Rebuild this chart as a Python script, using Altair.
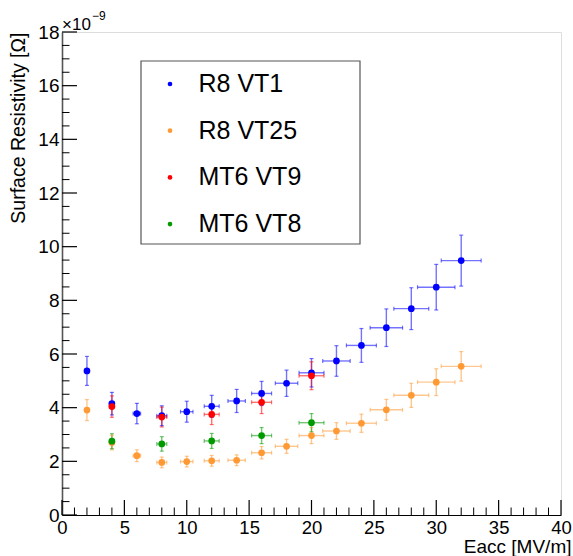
import altair as alt
import pandas as pd

# ---- data ----
series_names = ["R8 VT1", "R8 VT25", "MT6 VT9", "MT6 VT8"]
series_colors = ["#0000ff", "#ff9933", "#ff0000", "#009900"]

x_r8 = [2, 4, 6, 8, 10, 12, 14, 16, 18, 20, 22, 24, 26, 28, 30, 32]
xerr_r8 = [0.1, 0.2, 0.3, 0.4, 0.5, 0.6, 0.7, 0.8, 0.9, 1.0, 1.1, 1.2, 1.3, 1.4, 1.5, 1.6]

y_vt1 = [5.37, 4.15, 3.78, 3.70, 3.85, 4.05, 4.25, 4.53, 4.91, 5.30, 5.74, 6.32, 6.98, 7.69, 8.49, 9.48]
yerr_vt1 = [0.54, 0.42, 0.38, 0.37, 0.39, 0.41, 0.43, 0.45, 0.49, 0.53, 0.57, 0.63, 0.70, 0.78, 0.85, 0.95]

y_vt25 = [3.91, 2.70, 2.21, 1.96, 1.99, 2.02, 2.04, 2.32, 2.56, 2.96, 3.13, 3.42, 3.92, 4.46, 4.95, 5.54]
yerr_vt25 = [0.39, 0.27, 0.22, 0.20, 0.20, 0.20, 0.20, 0.23, 0.26, 0.30, 0.31, 0.34, 0.39, 0.45, 0.50, 0.55]

x_mt6 = [4, 8, 12, 16, 20]
xerr_mt6 = [0.2, 0.4, 0.6, 0.8, 1.0]

y_vt9 = [4.04, 3.65, 3.75, 4.20, 5.19]
yerr_vt9 = [0.40, 0.37, 0.38, 0.42, 0.52]

y_vt8 = [2.75, 2.65, 2.76, 2.96, 3.44]
yerr_vt8 = [0.28, 0.27, 0.28, 0.30, 0.34]

x_major_ticks = [0, 5, 10, 15, 20, 25, 30, 35, 40]
x_minor_ticks = [v for v in range(0, 41) if v % 5 != 0]
y_major_ticks = [0, 2, 4, 6, 8, 10, 12, 14, 16, 18]
y_minor_ticks = [v / 2 for v in range(0, 37) if v % 4 != 0]

# ---- build table ----
rows = []
for name, xs, ys, xe, ye in [
    ("R8 VT1", x_r8, y_vt1, xerr_r8, yerr_vt1),
    ("R8 VT25", x_r8, y_vt25, xerr_r8, yerr_vt25),
    ("MT6 VT9", x_mt6, y_vt9, xerr_mt6, yerr_vt9),
    ("MT6 VT8", x_mt6, y_vt8, xerr_mt6, yerr_vt8),
]:
    for a, b, c, d in zip(xs, ys, xe, ye):
        rows.append({"series": name, "x": a, "y": b, "xerr": c, "yerr": d})
df = pd.DataFrame(rows)

W, H = 499, 483
FONT = "Liberation Sans"

xscale = alt.Scale(domain=[0, 40], nice=False, zero=False)
yscale = alt.Scale(domain=[0, 18], nice=False, zero=False)
cscale = alt.Scale(domain=series_names, range=series_colors)

base = alt.Chart(df).transform_calculate(
    xlo="datum.x - datum.xerr", xhi="datum.x + datum.xerr",
    ylo="datum.y - datum.yerr", yhi="datum.y + datum.yerr",
)

xaxis = alt.Axis(
    values=x_major_ticks, tickSize=0, labelFontSize=18.5, labelFont=FONT, labelColor="black",
    labelPadding=3, domainColor="black", domainWidth=1.2, grid=False,
    title="Eacc [MV/m]", titleFont=FONT, titleFontSize=19, titleFontWeight="normal",
    titleAnchor="end", titleAlign="right", titleX=509, titleY=37, titleBaseline="alphabetic",
    titleColor="black", labelFlush=False, labelOverlap=False,
)
yaxis = alt.Axis(
    values=y_major_ticks, tickSize=0, labelFontSize=19, labelFont=FONT, labelColor="black",
    labelPadding=3, domainColor="#555555", domainWidth=1.6, grid=False,
    title="Surface Resistivity [Ω]", titleFont=FONT, titleFontSize=19.5, titleFontWeight="normal",
    titleAnchor="end", titleAlign="right", titleAngle=270, titleX=-44, titleY=0,
    titleBaseline="middle", titleColor="black", labelFlush=False, labelOverlap=False,
)

nolegend = alt.Color("series:N", scale=cscale, legend=None)

vbars = base.mark_rule(strokeWidth=1.4, opacity=0.55).encode(
    x=alt.X("x:Q", scale=xscale, axis=xaxis),
    y=alt.Y("ylo:Q", scale=yscale, axis=yaxis),
    y2="yhi:Q",
    color=nolegend,
)
hbars = base.mark_rule(strokeWidth=1.4, opacity=0.55).encode(
    x=alt.X("xlo:Q", scale=xscale), x2="xhi:Q",
    y=alt.Y("y:Q", scale=yscale),
    color=nolegend,
)
capt = base.mark_tick(orient="horizontal", size=4, thickness=1.2, opacity=0.55).encode(
    x=alt.X("x:Q", scale=xscale), y=alt.Y("yhi:Q", scale=yscale), color=nolegend,
)
capb = base.mark_tick(orient="horizontal", size=4, thickness=1.2, opacity=0.55).encode(
    x=alt.X("x:Q", scale=xscale), y=alt.Y("ylo:Q", scale=yscale), color=nolegend,
)
capl = base.mark_tick(orient="vertical", size=4, thickness=1.2, opacity=0.55).encode(
    x=alt.X("xlo:Q", scale=xscale), y=alt.Y("y:Q", scale=yscale), color=nolegend,
)
capr = base.mark_tick(orient="vertical", size=4, thickness=1.2, opacity=0.55).encode(
    x=alt.X("xhi:Q", scale=xscale), y=alt.Y("y:Q", scale=yscale), color=nolegend,
)

# legend frame
legend_box = alt.Chart(pd.DataFrame({"a": [0]})).mark_rect(
    fill="white", stroke="#555555", strokeWidth=1.2
).encode(x=alt.value(79), x2=alt.value(298), y=alt.value(29), y2=alt.value(212))

points = base.mark_circle(size=45, opacity=1).encode(
    x=alt.X("x:Q", scale=xscale),
    y=alt.Y("y:Q", scale=yscale),
    color=alt.Color(
        "series:N", scale=cscale,
        legend=alt.Legend(
            title=None, orient="none", legendX=95.5, legendY=39.5,
            labelFontSize=25, labelFont=FONT, labelColor="black",
            symbolType="circle", symbolSize=22, symbolStrokeWidth=0,
            rowPadding=20.7, labelOffset=16, padding=0, labelLimit=300,
        ),
    ),
)

# inward tick marks (ROOT style)
xt_major = alt.Chart(pd.DataFrame({"v": x_major_ticks})).mark_rule(color="black", strokeWidth=1.2).encode(
    x=alt.X("v:Q", scale=xscale), y=alt.value(H), y2=alt.value(H - 15))
xt_minor = alt.Chart(pd.DataFrame({"v": x_minor_ticks})).mark_rule(color="black", strokeWidth=1).encode(
    x=alt.X("v:Q", scale=xscale), y=alt.value(H), y2=alt.value(H - 7.5))
yt_major = alt.Chart(pd.DataFrame({"v": y_major_ticks})).mark_rule(color="black", strokeWidth=1.2).encode(
    y=alt.Y("v:Q", scale=yscale), x=alt.value(0), x2=alt.value(15))
yt_minor = alt.Chart(pd.DataFrame({"v": y_minor_ticks})).mark_rule(color="black", strokeWidth=1).encode(
    y=alt.Y("v:Q", scale=yscale), x=alt.value(0), x2=alt.value(7.5))

exp_main = alt.Chart(pd.DataFrame({"t": ["×10"]})).mark_text(
    font=FONT, fontSize=17, align="left", baseline="alphabetic", color="black"
).encode(text="t:N", x=alt.value(0), y=alt.value(-2))
exp_sup = alt.Chart(pd.DataFrame({"t": ["−9"]})).mark_text(
    font=FONT, fontSize=12, align="left", baseline="alphabetic", color="black"
).encode(text="t:N", x=alt.value(30), y=alt.value(-12))

chart = alt.layer(
    vbars, hbars, capt, capb, capl, capr,
    xt_major, xt_minor, yt_major, yt_minor,
    legend_box, points, exp_main, exp_sup,
).resolve_scale(color="independent").properties(
    width=W, height=H,
    padding={"left": 62, "top": 32, "right": 12, "bottom": 41},
    autosize=alt.AutoSizeParams(type="none"),
).configure_view(stroke="black", strokeWidth=1.2).configure(background="white")

chart.save("out.html", embed_options={"renderer": "svg", "actions": False})
